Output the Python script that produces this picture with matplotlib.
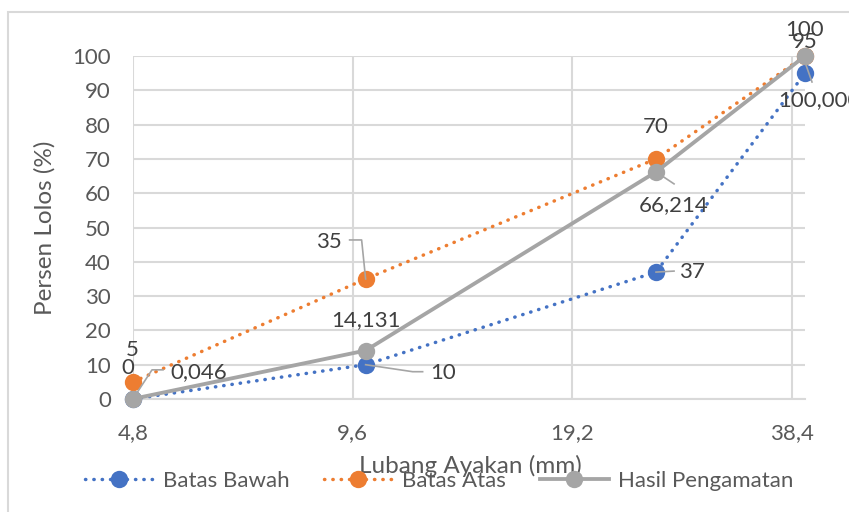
import numpy as np
import matplotlib
matplotlib.use('Agg')
import matplotlib.pyplot as plt
from matplotlib.lines import Line2D
from matplotlib.patches import Rectangle
from matplotlib.ticker import FixedLocator, FuncFormatter, NullLocator

# sieve opening (mm) and percent passing
sieve = [4.8, 10, 25, 40]
batas_bawah = [0, 10, 37, 95]
batas_atas = [5, 35, 70, 100]
hasil = [0.046, 14.131, 66.214, 100.000]
xticks = [4.8, 9.6, 19.2, 38.4]

BLUE = '#4472C4'
ORANGE = '#ED7D31'
GREY = '#A5A5A5'
TXT = '#595959'
LBL = '#404040'
GRID = '#D9D9D9'

plt.rcParams['font.family'] = ['Lato', 'DejaVu Sans']

fig = plt.figure(figsize=(8.49, 5.12), dpi=100)
ax = fig.add_axes([133 / 849, 1 - 399 / 512, (805 - 133) / 849, (399 - 56) / 512])

dot = (0, (0.1, 2.3))
ax.plot(sieve, batas_bawah, color=BLUE, lw=2.5, ls=dot, dash_capstyle='round',
        marker='o', ms=12.5, mew=0, label='Batas Bawah', zorder=3, clip_on=False)
ax.plot(sieve, batas_atas, color=ORANGE, lw=2.5, ls=dot, dash_capstyle='round',
        marker='o', ms=12.5, mew=0, label='Batas Atas', zorder=3, clip_on=False)
ax.plot(sieve, hasil, color=GREY, lw=2.75, marker='o', ms=12.5, mew=0,
        label='Hasil Pengamatan', zorder=4, clip_on=False)

ax.set_xscale('log', base=2)
ax.set_xlim(4.8, 40)
ax.set_ylim(0, 100)
ax.xaxis.set_major_locator(FixedLocator(xticks))
ax.xaxis.set_minor_locator(NullLocator())
ax.xaxis.set_major_formatter(FuncFormatter(lambda v, p: f"{v:.1f}".replace('.', ',')))
ax.set_yticks(np.arange(0, 101, 10))
ax.tick_params(length=0, labelsize=16, labelcolor=TXT)
ax.tick_params(axis='x', pad=17)
ax.tick_params(axis='y', pad=16)
ax.grid(True, color=GRID, lw=1.5, zorder=0)
for s in ['top', 'right', 'left']:
    ax.spines[s].set_visible(False)
ax.spines['bottom'].set_color(GRID)
ax.spines['bottom'].set_linewidth(1.5)
ax.set_axisbelow(True)

# data labels, offsets in pixels (x right, y up)
def fmt_int(v):
    return f"{v:g}"

def fmt_dec(v):
    return f"{v:.3f}".replace('.', ',')

offsets = {
    'bawah': [(-5, 31), (77, -8), (36, 0), (0, 31)],
    'atas': [(-1, 32), (-37, 37), (0, 32), (0, 26)],
    'hasil': [(66, 27), (0, 30), (18, -33), (14, -44)],
}
series = [('bawah', batas_bawah, fmt_int), ('atas', batas_atas, fmt_int),
          ('hasil', hasil, fmt_dec)]
for key, vals, f in series:
    for x, y, off in zip(sieve, vals, offsets[key]):
        ax.annotate(f(y), (x, y), xytext=off, textcoords='offset pixels',
                    ha='center', va='center', fontsize=16, color=LBL,
                    annotation_clip=False, zorder=6)

# leader lines, vertices as pixel offsets from the point
leaders = [
    (sieve[0], hasil[0], [(0, 0), (19, 29), (30, 29)]),
    (sieve[1], batas_bawah[1], [(0, 0), (47, -7), (57, -7)]),
    (sieve[1], batas_atas[1], [(0, 0), (-4, 39), (-16, 39)]),
    (sieve[2], batas_bawah[2], [(0, 0), (18, 1)]),
    (sieve[2], hasil[2], [(0, 0), (18, -12)]),
    (sieve[3], hasil[3], [(1, -9), (7, -26)]),
]
for x, y, pts in leaders:
    px, py = ax.transData.transform((x, y))
    xs = [px + dx for dx, dy in pts]
    ys = [py + dy for dx, dy in pts]
    fig.add_artist(Line2D(xs, ys, transform=None, color=GREY, lw=1.2, zorder=5))

fig.text(45 / 849, 1 - 228 / 512, 'Persen Lolos (%)', rotation=90, ha='center',
         va='center', fontsize=17.5, color=TXT)
fig.text(470 / 849, 1 - 466 / 512, 'Lubang Ayakan (mm)', ha='center', va='center',
         fontsize=17.5, color=TXT)

fig.legend(loc='center', bbox_to_anchor=(439 / 849, 1 - 481 / 512), ncol=3,
           frameon=False, fontsize=16, labelcolor=TXT, handlelength=3.1,
           handletextpad=0.4, columnspacing=1.55)

# chart border
fig.add_artist(Rectangle((8 / 849, -0.1), 1.2, 1 - 12 / 512 + 0.1,
                         transform=fig.transFigure, fill=False, ec=GRID, lw=1.5))

fig.savefig('out.png', dpi=100)
